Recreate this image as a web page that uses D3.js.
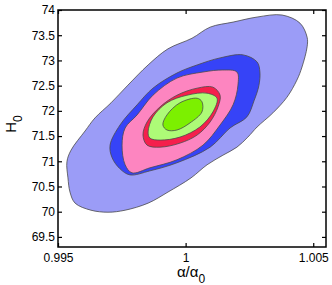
<!DOCTYPE html>
<html>
<head>
<meta charset="utf-8">
<script src="https://cdn.jsdelivr.net/npm/d3@7"></script>
<style>
  body { margin: 0; background: #fff; }
  text { font-family: "Liberation Sans", Arial, sans-serif; }
</style>
</head>
<body>
<div id="graph-container"></div>
<script>
const width = 332;
const height = 285;
const marginTop = 10;
const marginRight = 6;
const marginBottom = 38;
const marginLeft = 58;

// Ticks
const xTicks = [0.995, 1, 1.005];
const yTicks = [69.5, 70, 70.5, 71, 71.5, 72, 72.5, 73, 73.5, 74];

// Contour levels, outermost first: [alpha/alpha0, H0]
const level1 = [[0.99535,70.99],[0.99551,71.22],[0.99606,71.60],[0.99645,71.86],[0.99708,72.16],[0.99774,72.51],
  [0.99853,72.91],[0.99931,73.23],[1.00025,73.44],[1.00096,73.66],[1.00186,73.76],[1.00280,73.86],[1.00378,73.90],
  [1.00448,73.74],[1.00476,73.46],[1.00476,73.27],[1.00456,72.87],[1.00436,72.61],[1.00397,72.27],[1.00342,71.96],
  [1.00280,71.68],[1.00244,71.48],[1.00201,71.28],[1.00146,71.12],[1.00084,70.93],[1.00021,70.67],[0.99931,70.39],
  [0.99853,70.17],[0.99763,70.03],[0.99696,69.99],[0.99629,70.03],[0.99567,70.17],[0.99547,70.39],[0.99539,70.67]];
const level2 = [[0.99704,71.32],[0.99712,71.07],[0.99743,70.85],[0.99782,70.73],[0.99860,70.81],[0.99966,70.97],
  [1.00096,71.28],[1.00174,71.66],[1.00240,71.88],[1.00268,72.20],[1.00287,72.50],[1.00291,72.77],[1.00280,72.97],
  [1.00225,73.11],[1.00135,73.05],[1.00045,72.91],[0.99966,72.75],[0.99872,72.45],[0.99810,72.12],[0.99743,71.72]];
const level3 = [[0.99751,71.32],[0.99763,70.93],[0.99790,70.77],[0.99860,70.87],[0.99966,71.03],[1.00068,71.32],
  [1.00135,71.72],[1.00186,72.12],[1.00205,72.51],[1.00201,72.77],[1.00146,72.81],[1.00068,72.77],[0.99966,72.65],
  [0.99872,72.31],[0.99810,71.92],[0.99763,71.66]];
const level4 = [[0.99833,71.52],[0.99849,71.78],[0.99900,72.08],[0.99966,72.31],[1.00045,72.45],[1.00107,72.47],
  [1.00135,72.31],[1.00127,72.08],[1.00096,71.78],[1.00045,71.52],[0.99978,71.36],[0.99900,71.28],[0.99849,71.32]];
const level5 = [[0.99853,71.58],[0.99872,71.88],[0.99927,72.16],[1.00005,72.31],[1.00084,72.35],[1.00123,72.25],
  [1.00107,71.98],[1.00056,71.68],[0.99978,71.48],[0.99900,71.42],[0.99860,71.46]];
const level6 = [[0.99911,71.72],[0.99927,71.92],[0.99978,72.16],[1.00045,72.25],[1.00064,72.18],[1.00064,71.98],
  [1.00017,71.76],[0.99966,71.62],[0.99927,71.62]];

const levels = [level1, level2, level3, level4, level5, level6];
const colors = ["#9b9cf7", "#3643f7", "#fd85c0", "#f51f4c", "#adfb77", "#7cf000"];

const svg = d3.select("#graph-container").append("svg")
    .attr("width", width)
    .attr("height", height);

const x = d3.scaleLinear()
    .domain([0.995, 1.0055])
    .range([marginLeft, width - marginRight]);

const y = d3.scaleLinear()
    .domain([69.3, 74])
    .range([height - marginBottom, marginTop]);

// Filled contours
const line = d3.line()
    .x(d => x(d[0]))
    .y(d => y(d[1]))
    .curve(d3.curveCatmullRomClosed.alpha(0.5));

svg.append("g")
    .selectAll("path")
    .data(levels)
    .join("path")
    .attr("d", line)
    .attr("fill", (d, i) => colors[i])
    .attr("stroke", "#4a4a4a")
    .attr("stroke-width", 0.8);

// Axes, ticks pointing inward
svg.append("g")
    .attr("transform", `translate(0,${height - marginBottom})`)
    .call(d3.axisBottom(x).tickValues(xTicks).tickSize(-4).tickPadding(6).tickFormat(d3.format("")))
    .call(g => g.select(".domain").remove())
    .call(g => g.selectAll("text").attr("font-size", 12).attr("fill", "#000"));

svg.append("g")
    .attr("transform", `translate(0,${marginTop})`)
    .call(d3.axisTop(x).tickValues(xTicks).tickSize(-4).tickFormat(""))
    .call(g => g.select(".domain").remove());

svg.append("g")
    .attr("transform", `translate(${marginLeft},0)`)
    .call(d3.axisLeft(y).tickValues(yTicks).tickSize(-4).tickPadding(3).tickFormat(d3.format("")))
    .call(g => g.select(".domain").remove())
    .call(g => g.selectAll("text").attr("font-size", 12).attr("fill", "#000"));

svg.append("g")
    .attr("transform", `translate(${width - marginRight},0)`)
    .call(d3.axisRight(y).tickValues(yTicks).tickSize(-4).tickFormat(""))
    .call(g => g.select(".domain").remove());

svg.selectAll(".tick line").attr("stroke", "#000").attr("stroke-width", 1.2);

// Plot frame
svg.append("rect")
    .attr("x", marginLeft)
    .attr("y", marginTop)
    .attr("width", width - marginLeft - marginRight)
    .attr("height", height - marginTop - marginBottom)
    .attr("fill", "none")
    .attr("stroke", "#000")
    .attr("stroke-width", 1.5);

// Axis labels
const xl = svg.append("text")
    .attr("x", 191)
    .attr("y", 277)
    .attr("text-anchor", "middle")
    .attr("font-size", 15);
xl.append("tspan").text("α/α");
xl.append("tspan").attr("font-size", 12).attr("dy", 6).text("0");

const yl = svg.append("text")
    .attr("transform", "translate(16,124) rotate(-90)")
    .attr("text-anchor", "middle")
    .attr("font-size", 15);
yl.append("tspan").text("H");
yl.append("tspan").attr("font-size", 12).attr("dy", 6).text("0");
</script>
</body>
</html>
